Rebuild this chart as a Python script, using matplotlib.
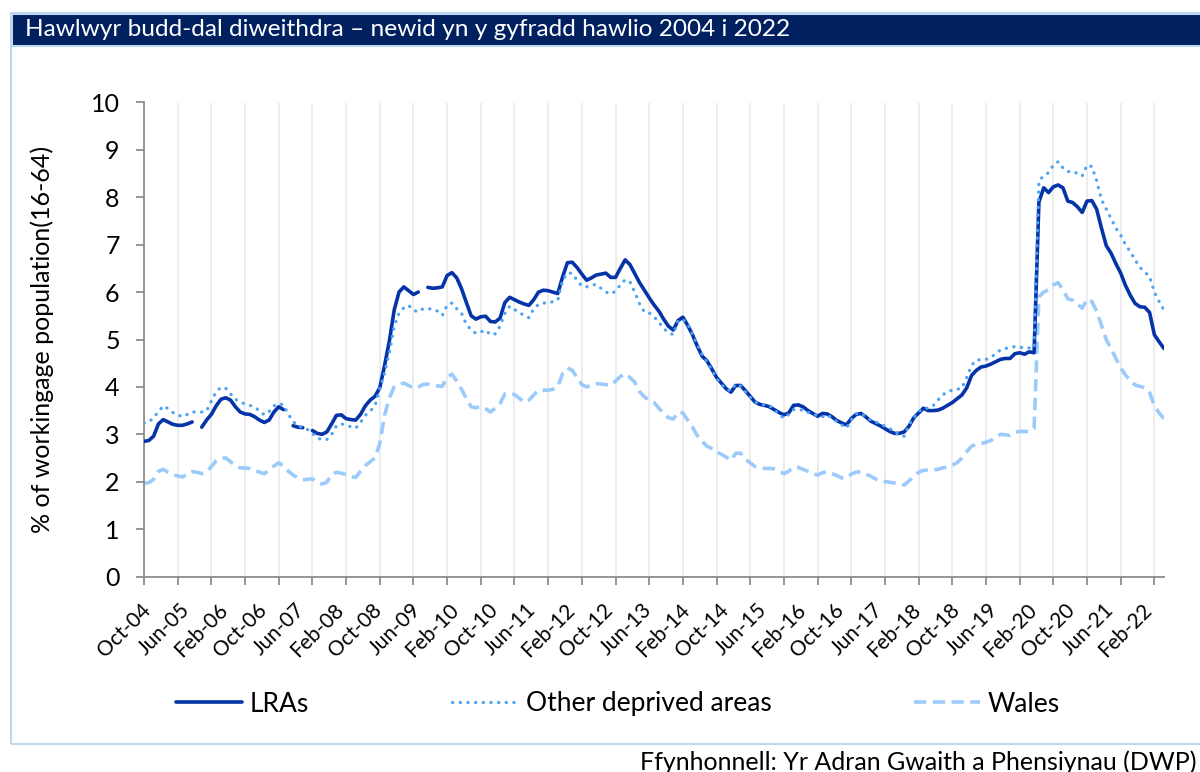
import numpy as np
import pandas as pd
import matplotlib
matplotlib.use("Agg")
import matplotlib.pyplot as plt
import matplotlib.transforms as mtransforms
from matplotlib.patches import Rectangle

nan = np.nan

# monthly claimant rate, % of working age population, Oct-04 .. Jun-22
lras = [
    2.85, 2.87, 2.96, 3.22, 3.31, 3.26, 3.21, 3.19, 3.19, 3.22, 3.26, nan,
    3.15, 3.30, 3.42, 3.60, 3.74, 3.77, 3.72, 3.58, 3.47, 3.43, 3.42, 3.37,
    3.30, 3.25, 3.30, 3.47, 3.58, 3.52, nan, 3.18, 3.15, 3.14, nan, 3.08,
    3.02, 3.00, 3.05, 3.22, 3.40, 3.41, 3.33, 3.31, 3.30, 3.42, 3.60, 3.72,
    3.80, 3.98, 4.45, 4.97, 5.62, 6.00, 6.11, 6.03, 5.95, 6.00, nan, 6.10,
    6.08, 6.09, 6.11, 6.35, 6.41, 6.30, 6.07, 5.78, 5.50, 5.43, 5.48, 5.49,
    5.38, 5.37, 5.45, 5.78, 5.89, 5.84, 5.79, 5.75, 5.72, 5.84, 6.00, 6.04,
    6.03, 6.00, 5.97, 6.32, 6.62, 6.63, 6.52, 6.38, 6.25, 6.30, 6.36, 6.38,
    6.40, 6.31, 6.31, 6.50, 6.68, 6.58, 6.39, 6.20, 6.04, 5.88, 5.73, 5.60,
    5.43, 5.28, 5.20, 5.40, 5.47, 5.30, 5.10, 4.86, 4.65, 4.55, 4.38, 4.20,
    4.08, 3.96, 3.89, 4.03, 4.03, 3.92, 3.80, 3.68, 3.63, 3.61, 3.58, 3.52,
    3.46, 3.41, 3.45, 3.61, 3.62, 3.58, 3.50, 3.44, 3.38, 3.44, 3.43, 3.37,
    3.29, 3.24, 3.20, 3.33, 3.42, 3.44, 3.37, 3.28, 3.23, 3.18, 3.12, 3.06,
    3.02, 3.02, 3.05, 3.17, 3.35, 3.45, 3.55, 3.50, 3.50, 3.51, 3.55, 3.61,
    3.67, 3.75, 3.83, 3.98, 4.24, 4.35, 4.42, 4.44, 4.48, 4.53, 4.58, 4.60,
    4.60, 4.70, 4.72, 4.69, 4.74, 4.72, 7.90, 8.20, 8.10, 8.22, 8.26, 8.20,
    7.92, 7.89, 7.80, 7.68, 7.92, 7.93, 7.75, 7.35, 6.98, 6.82, 6.60, 6.40,
    6.14, 5.93, 5.76, 5.69, 5.68, 5.57, 5.10, 4.95, 4.81,
]

other_deprived = [
    3.24, 3.26, 3.35, 3.48, 3.60, 3.54, 3.46, 3.41, 3.37, 3.42, 3.47, 3.47,
    3.47, 3.49, 3.70, 3.90, 3.99, 3.97, 3.85, 3.74, 3.68, 3.64, 3.61, 3.57,
    3.50, 3.41, 3.48, 3.60, 3.65, 3.62, 3.42, 3.27, 3.17, 3.15, 3.10, 3.02,
    2.92, 2.89, 2.89, 3.00, 3.18, 3.22, 3.19, 3.16, 3.13, 3.25, 3.40, 3.49,
    3.60, 3.95, 4.30, 4.72, 5.28, 5.55, 5.67, 5.72, 5.62, 5.58, 5.65, 5.65,
    5.64, 5.60, 5.51, 5.72, 5.77, 5.65, 5.55, 5.32, 5.20, 5.13, 5.16, 5.20,
    5.10, 5.12, 5.28, 5.55, 5.70, 5.63, 5.58, 5.50, 5.46, 5.65, 5.74, 5.77,
    5.77, 5.80, 5.83, 6.25, 6.40, 6.40, 6.25, 6.13, 6.11, 6.15, 6.16, 6.08,
    6.00, 5.96, 6.02, 6.15, 6.26, 6.22, 6.00, 5.75, 5.58, 5.56, 5.48, 5.37,
    5.23, 5.15, 5.10, 5.40, 5.42, 5.34, 5.10, 4.90, 4.68, 4.53, 4.36, 4.18,
    4.05, 3.95, 3.92, 4.06, 4.02, 3.90, 3.78, 3.68, 3.64, 3.62, 3.61, 3.52,
    3.42, 3.34, 3.42, 3.52, 3.52, 3.51, 3.46, 3.44, 3.38, 3.37, 3.41, 3.34,
    3.27, 3.20, 3.13, 3.30, 3.43, 3.45, 3.36, 3.30, 3.26, 3.23, 3.17, 3.12,
    3.06, 2.98, 2.96, 3.20, 3.35, 3.48, 3.55, 3.55, 3.60, 3.72, 3.83, 3.90,
    3.93, 3.95, 3.97, 4.20, 4.45, 4.57, 4.57, 4.58, 4.62, 4.70, 4.78, 4.81,
    4.83, 4.85, 4.84, 4.82, 4.82, 4.82, 8.35, 8.45, 8.52, 8.68, 8.75, 8.62,
    8.54, 8.55, 8.50, 8.45, 8.68, 8.65, 8.35, 7.95, 7.75, 7.55, 7.35, 7.20,
    7.00, 6.85, 6.68, 6.52, 6.42, 6.33, 6.00, 5.80, 5.62,
]

wales = [
    1.97, 1.98, 2.05, 2.22, 2.26, 2.20, 2.15, 2.12, 2.10, 2.16, 2.21, 2.20,
    2.17, 2.20, 2.32, 2.44, 2.50, 2.50, 2.42, 2.35, 2.29, 2.29, 2.28, 2.24,
    2.20, 2.17, 2.24, 2.33, 2.40, 2.33, 2.22, 2.14, 2.08, 2.04, 2.05, 2.06,
    1.98, 1.95, 1.99, 2.15, 2.20, 2.18, 2.15, 2.11, 2.09, 2.22, 2.34, 2.42,
    2.50, 2.80, 3.40, 3.77, 4.00, 4.05, 4.08, 4.03, 3.97, 4.00, 4.05, 4.06,
    4.04, 4.02, 4.01, 4.20, 4.27, 4.12, 3.95, 3.75, 3.58, 3.56, 3.59, 3.54,
    3.47, 3.55, 3.65, 3.85, 3.87, 3.84, 3.76, 3.68, 3.72, 3.83, 3.93, 3.93,
    3.93, 3.95, 4.00, 4.28, 4.40, 4.35, 4.20, 4.05, 4.00, 4.04, 4.07, 4.06,
    4.05, 4.03, 4.12, 4.22, 4.28, 4.20, 4.10, 3.90, 3.79, 3.72, 3.67, 3.55,
    3.44, 3.35, 3.32, 3.47, 3.45, 3.30, 3.15, 2.97, 2.85, 2.75, 2.70, 2.63,
    2.58, 2.52, 2.45, 2.60, 2.60, 2.47, 2.40, 2.32, 2.30, 2.28, 2.28, 2.27,
    2.22, 2.17, 2.22, 2.31, 2.30, 2.26, 2.22, 2.17, 2.14, 2.19, 2.21, 2.17,
    2.13, 2.08, 2.08, 2.16, 2.20, 2.21, 2.16, 2.12, 2.06, 2.02, 2.00, 1.99,
    1.97, 1.95, 1.93, 2.02, 2.12, 2.20, 2.24, 2.25, 2.25, 2.26, 2.29, 2.31,
    2.35, 2.40, 2.50, 2.63, 2.75, 2.79, 2.81, 2.83, 2.87, 2.93, 3.00, 2.99,
    2.98, 3.04, 3.06, 3.06, 3.06, 3.12, 5.90, 6.00, 6.05, 6.15, 6.20, 6.05,
    5.86, 5.83, 5.75, 5.66, 5.85, 5.80, 5.60, 5.30, 5.00, 4.80, 4.60, 4.40,
    4.25, 4.13, 4.04, 4.01, 3.98, 3.88, 3.60, 3.45, 3.33,
]

months = pd.date_range("2004-10-01", periods=len(lras), freq="MS")
month_labels = [d.strftime("%b-%y") for d in months]

title = "Hawlwyr budd-dal diweithdra \u2013 newid yn y gyfradd hawlio 2004 i 2022"
source = "Ffynhonnell: Yr Adran Gwaith a Phensiynau (DWP)"

plt.rcParams["font.family"] = ["Lato", "DejaVu Sans"]

W, H = 1200, 772
fig = plt.figure(figsize=(W / 100, H / 100), dpi=100)

# outer frame + title bar
fig.patches.append(Rectangle((11 / W, 1 - 744 / H), 1.0, (744 - 13) / H, transform=fig.transFigure,
                             fill=False, edgecolor="#BDD7EE", lw=1.5))
fig.patches.append(Rectangle((12 / W, 1 - 46 / H), 1.0, 32 / H, transform=fig.transFigure,
                             facecolor="#002060", edgecolor="#BDD7EE", lw=1.5))
fig.text(25 / W, 1 - 30 / H, title, color="white", fontsize=17.6, va="center", ha="left")

ax = fig.add_axes([144 / W, 1 - 576.5 / H, (1164 - 144) / W, (576.5 - 102.5) / H])
x = np.arange(len(lras))

ax.plot(x, lras, color="#0533A8", lw=2.6, solid_capstyle="round", label="LRAs", zorder=3)
ax.plot(x, other_deprived, color="#4DA3F4", lw=2.3, linestyle=(0, (0.1, 2.3)),
        dash_capstyle="round", label="Other deprived areas", zorder=4)
ax.plot(x, wales, color="#9CCBFB", lw=2.6, linestyle=(0, (3.4, 1.8)), label="Wales", zorder=2)

ax.set_xlim(0, len(lras) - 1)
ax.set_ylim(0, 10)
ax.set_yticks(range(0, 11))

# tick marks + gridlines every 7 months, labels every 8 months
ax.xaxis.remove_overlapping_locs = False
ax.set_xticks(x[::7])
ax.set_xticklabels([])
ax.set_xticks(x[::8], minor=True)
ax.set_xticklabels([month_labels[i] for i in x[::8]], minor=True, rotation=45,
                   ha="right", va="center", rotation_mode="anchor", fontsize=15)
ax.tick_params(axis="x", which="minor", length=0, pad=22)
ax.tick_params(axis="x", which="major", length=5.5, width=1.3, color="#8C8C8C")
ax.tick_params(axis="y", length=5.5, width=1.3, color="#8C8C8C", labelsize=18, pad=12)
shift = mtransforms.ScaledTranslation(4 / 100, 0, fig.dpi_scale_trans)
for lab in ax.get_xticklabels(minor=True):
    lab.set_transform(lab.get_transform() + shift)
ax.grid(axis="x", which="major", color="#EBEBEB", lw=1.3)
ax.set_axisbelow(True)

for s in ["top", "right"]:
    ax.spines[s].set_visible(False)
for s in ["left", "bottom"]:
    ax.spines[s].set_color("#8C8C8C")
    ax.spines[s].set_linewidth(1.3)

ax.set_ylabel("% of workingage population(16-64)", fontsize=18)
ax.yaxis.set_label_coords(-0.088, 0.5)

handles, labels = ax.get_legend_handles_labels()
fig.legend(handles, labels, loc="center", bbox_to_anchor=(618 / W, 1 - 704 / H), ncol=3,
           frameon=False, fontsize=19, handlelength=2.5, handletextpad=0.3, columnspacing=5.4)

fig.text(1197 / W, 1 - 770 / H, source, fontsize=18, ha="right", va="baseline")

fig.savefig("out.png", dpi=100)
